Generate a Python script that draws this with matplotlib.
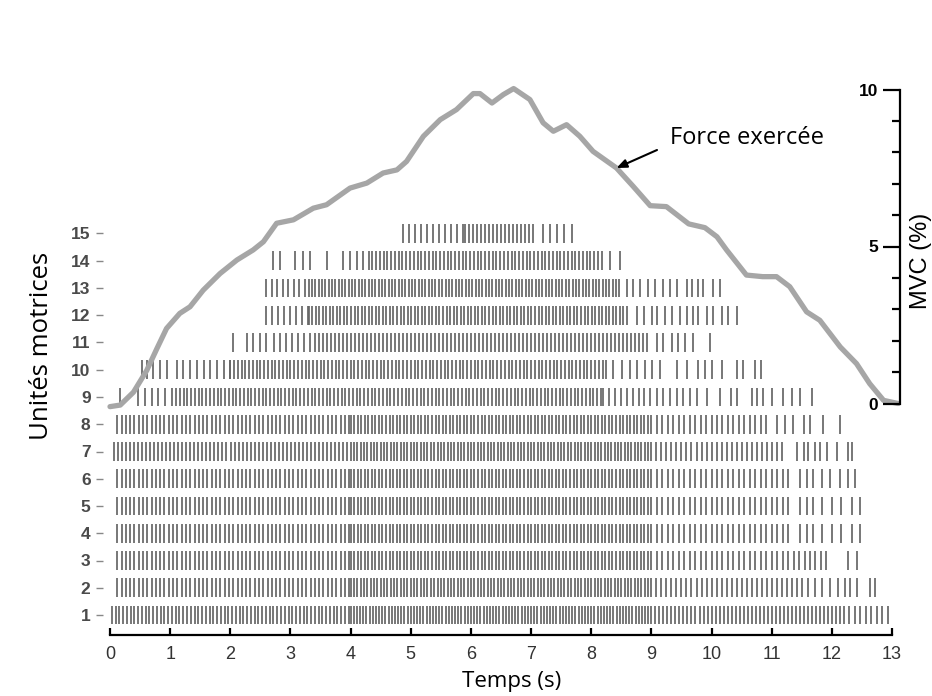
import numpy as np
import matplotlib
matplotlib.use("Agg")
import matplotlib.pyplot as plt

# ---------------- data ----------------
units = list(range(1, 16))

# dense firing segments per unit: (start s, end s, firing rate Hz)
dense_segments = {
    1: [(0.03, 4.0, 16), (4.0, 9.0, 19), (9.0, 12.2, 15), (12.2, 12.95, 11)],
    2: [(0.12, 4.0, 14), (4.0, 9.0, 18), (9.0, 11.52, 12)],
    3: [(0.12, 4.0, 14), (4.0, 9.0, 17), (9.0, 12.0, 11)],
    4: [(0.12, 4.0, 14), (4.0, 9.0, 17), (9.0, 11.33, 11)],
    5: [(0.12, 4.0, 14), (4.0, 9.0, 17), (9.0, 11.33, 11)],
    6: [(0.12, 4.0, 14), (4.0, 9.0, 17), (9.0, 11.36, 11)],
    7: [(0.07, 4.0, 15), (4.0, 9.0, 18), (9.0, 11.25, 12)],
    8: [(0.12, 4.0, 14), (4.0, 9.0, 17), (9.0, 10.97, 11)],
    9: [(0.47, 1.1, 9), (1.1, 8.2, 16), (8.2, 8.8, 10)],
    10: [(1.11, 2.0, 9), (2.0, 8.26, 16)],
    11: [(2.83, 3.4, 10), (3.4, 8.98, 15)],
    12: [(2.59, 3.3, 10), (3.3, 8.64, 17)],
    13: [(2.60, 3.3, 11), (3.3, 8.48, 18)],
    14: [(3.88, 4.3, 9), (4.3, 8.2, 16)],
    15: [(4.87, 5.9, 10), (5.9, 7.1, 15)],
}

# isolated spikes read individually (recruitment / derecruitment)
isolated_spikes = {
    1: [],
    2: [11.61, 11.72, 11.83, 11.97, 12.11, 12.22, 12.30, 12.41, 12.63, 12.72],
    3: [12.27, 12.41],
    4: [11.47, 11.58, 11.69, 11.83, 12.00, 12.16, 12.33, 12.47],
    5: [11.47, 11.58, 11.69, 11.83, 12.00, 12.16, 12.33, 12.47],
    6: [11.47, 11.58, 11.69, 11.83, 11.97, 12.14, 12.27, 12.39],
    7: [11.42, 11.53, 11.61, 11.72, 11.80, 11.92, 12.08, 12.27, 12.33],
    8: [11.08, 11.22, 11.36, 11.53, 11.64, 11.86, 12.14],
    9: [0.17, 8.87, 8.98, 9.09, 9.20, 9.31, 9.42, 9.53, 9.64, 9.75, 9.92,
        10.14, 10.33, 10.42, 10.67, 10.75, 10.86, 11.00, 11.19, 11.33,
        11.47, 11.67],
    10: [0.53, 0.61, 0.72, 0.83, 0.94, 8.37, 8.51, 8.64, 8.76, 8.89, 9.01,
         9.14, 9.42, 9.59, 9.78, 9.89, 10.00, 10.17, 10.42, 10.53, 10.72,
         10.83],
    11: [2.05, 2.27, 2.38, 2.49, 2.60, 2.72, 9.09, 9.20, 9.34, 9.45, 9.56,
         9.70, 9.98],
    12: [8.76, 8.87, 9.01, 9.09, 9.23, 9.34, 9.48, 9.59, 9.70, 9.78, 9.92,
         10.03, 10.17, 10.28, 10.42],
    13: [8.59, 8.70, 8.81, 8.95, 9.06, 9.20, 9.31, 9.42, 9.59, 9.67, 9.78,
         9.86, 10.03, 10.14],
    14: [2.71, 2.83, 3.08, 3.21, 3.33, 3.60, 8.31, 8.48],
    15: [7.20, 7.32, 7.43, 7.54, 7.68],
}

# force curve (% MVC)
force_t = [0.00, 0.17, 0.39, 0.61, 0.78, 0.94, 1.16, 1.33, 1.55, 1.83, 2.11,
           2.38, 2.55, 2.77, 3.05, 3.38, 3.60, 3.99, 4.27, 4.54, 4.77, 4.93,
           5.21, 5.49, 5.76, 6.04, 6.15, 6.35, 6.54, 6.71, 6.98, 7.20, 7.37,
           7.59, 7.81, 8.03, 8.42, 8.70, 8.98, 9.25, 9.62, 9.89, 10.09, 10.25,
           10.58, 10.85, 11.08, 11.30, 11.58, 11.80, 12.14, 12.41, 12.63,
           12.86, 13.10]
force_mvc = [-0.10, -0.05, 0.36, 1.05, 1.75, 2.39, 2.87, 3.08, 3.61, 4.14, 4.57,
             4.89, 5.15, 5.74, 5.85, 6.22, 6.33, 6.86, 7.02, 7.34, 7.44, 7.71,
             8.51, 9.04, 9.36, 9.87, 9.87, 9.57, 9.84, 10.03, 9.68, 8.94, 8.67,
             8.88, 8.51, 8.03, 7.50, 6.91, 6.30, 6.27, 5.72, 5.60, 5.31, 4.89,
             4.09, 4.04, 4.04, 3.72, 2.92, 2.65, 1.80, 1.27, 0.63,
             0.10, 0.00]

x_ticks = list(range(0, 14))
mvc_major = [0, 5, 10]
mvc_minor = [1, 2, 3, 4, 6, 7, 8, 9]
arrow_target = (8.42, 7.50)

# ---------------- build spike trains ----------------
trains = []
for u in units:
    s = []
    for (t0, t1, hz) in dense_segments[u]:
        s.extend(np.arange(t0, t1, 1.0 / hz))
    s.extend(isolated_spikes[u])
    trains.append(np.sort(np.array(s)))

# ---------------- figure ----------------
W, H = 932, 696
fig = plt.figure(figsize=(W / 100, H / 100), dpi=100)
fig.patch.set_facecolor("white")

def fx(px):
    return px / W

def fy(py):
    return 1 - py / H

ax_l, ax_r, ax_t, ax_b = 110, 900, 85, 635
ax = fig.add_axes([fx(ax_l), fy(ax_b), (ax_r - ax_l) / W, (ax_b - ax_t) / H])

px_per_s = (892 - 110) / 13.0
ax.set_xlim(0, (ax_r - ax_l) / px_per_s)
unit_px = 27.25
ax.set_ylim(1 - (ax_b - 615) / unit_px, 1 + (615 - ax_t) / unit_px)

ax.eventplot(trains, lineoffsets=units, linelengths=0.68,
             colors="#666666", linewidths=1.25)

for sp in ["top", "right"]:
    ax.spines[sp].set_visible(False)
ax.spines["left"].set_position(("outward", 5))
ax.spines["left"].set_visible(False)
ax.spines["bottom"].set_bounds(0, 13)
ax.spines["bottom"].set_linewidth(1.6)

ax.set_xticks(x_ticks)
ax.set_xticklabels([str(v) for v in x_ticks], fontsize=13,
                   family="Liberation Sans", color="#333333")
ax.tick_params(axis="x", direction="in", length=5, width=1.6, pad=8)

ax.set_yticks(units)
ax.set_yticklabels([str(u) for u in units], fontsize=12.5,
                   family="Liberation Sans", fontweight="bold", color="#4a4a4a")
ax.tick_params(axis="y", direction="out", length=5, width=1.0,
               color="#888888", pad=4)

# force axis
ax2 = ax.twinx()
ppm = (403.5 - 89.5) / 10.0
ax2.set_ylim(-(ax_b - 403.5) / ppm, (403.5 - ax_t) / ppm)
ax2.plot(force_t, force_mvc, color="#a6a6a6", lw=3.8,
         solid_joinstyle="round", solid_capstyle="round", clip_on=False,
         zorder=1)
for sp in ["top", "bottom", "right"]:
    ax2.spines[sp].set_visible(False)
ax2.yaxis.tick_left()
ax2.spines["left"].set_position(("axes", 1.0))
ax2.spines["left"].set_bounds(0, 10)
ax2.spines["left"].set_linewidth(1.6)
ax2.set_yticks(mvc_major)
ax2.set_yticks(mvc_minor, minor=True)
ax2.set_yticklabels([str(v) for v in mvc_major], fontsize=12.5,
                    family="Liberation Sans", fontweight="bold")
ax2.tick_params(axis="y", which="major", direction="out", length=12,
                width=1.6, pad=4)
ax2.tick_params(axis="y", which="minor", direction="out", length=6,
                width=1.6)

# annotation
ax2.annotate("", xy=arrow_target, xycoords="data",
             xytext=(657, H - 150), textcoords="figure pixels",
             arrowprops=dict(arrowstyle="-|>,head_length=0.6,head_width=0.25",
                             color="black", lw=1.5, shrinkA=0, shrinkB=0))
fig.text(fx(670), fy(138), "Force exercée", family="Open Sans", fontsize=17,
         ha="left", va="center", color="black")

# axis titles
fig.text(fx(512), fy(681), "Temps (s)", family="Open Sans", fontsize=16,
         ha="center", va="center")
fig.text(fx(42), fy(346), "Unités motrices", family="Open Sans", fontsize=18.5,
         ha="center", va="center", rotation=90)
fig.text(fx(921), fy(261), "MVC (%)", family="Liberation Sans", fontsize=17,
         ha="center", va="center", rotation=90)

fig.savefig("out.png", dpi=100, facecolor="white")
